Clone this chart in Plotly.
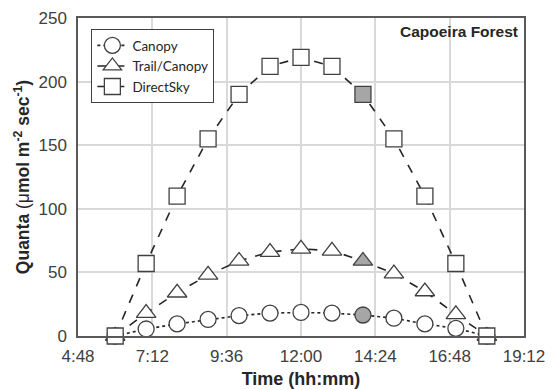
import plotly.graph_objects as go

hours = [6, 7, 8, 9, 10, 11, 12, 13, 14, 15, 16, 17, 18]
canopy = [0, 5.5, 9.5, 13, 16, 18, 18.5, 18, 16.5, 14, 9.5, 6, 0]
trail_canopy = [0, 18, 34, 48, 59, 66, 68.5, 67, 59, 49, 35, 17, 0]
direct_sky = [0, 57, 110, 155, 190, 212, 219, 212, 190, 155, 110, 57, 0]
highlight_hour = 14

tick_vals = [4.8, 7.2, 9.6, 12.0, 14.4, 16.8, 19.2]
tick_text = ["4:48", "7:12", "9:36", "12:00", "14:24", "16:48", "19:12"]
y_ticks = [0, 50, 100, 150, 200, 250]

edge = "#404040"
fills = ["#a6a6a6" if h == highlight_hour else "white" for h in hours]

fig = go.Figure()
series = [
    ("Canopy", canopy, "circle", "dot", 16),
    ("Trail/Canopy", trail_canopy, "triangle-up", "dash", 17),
    ("DirectSky", direct_sky, "square", "dash", 16),
]
for name, vals, sym, dash, size in series:
    fig.add_trace(go.Scatter(
        x=hours, y=vals, name=name, mode="lines+markers",
        line=dict(color="#262626", width=1.6, dash=dash),
        marker=dict(symbol=sym, size=size, color=fills,
                    line=dict(color=edge, width=1.3)),
        cliponaxis=False,
    ))

fig.update_layout(
    width=554, height=390,
    margin=dict(l=78, r=30, t=18, b=54),
    paper_bgcolor="white", plot_bgcolor="white",
    font=dict(family="Liberation Sans, Arial", color="#404040", size=17),
    showlegend=True,
    legend=dict(
        x=0.03, y=0.965, xanchor="left", yanchor="top",
        bgcolor="white", bordercolor="#404040", borderwidth=1,
        font=dict(family="Lato, Open Sans", size=13.5, color="#262626"),
        tracegroupgap=0, itemwidth=30,
    ),
    xaxis=dict(
        range=[4.8, 19.2], tickvals=tick_vals, ticktext=tick_text,
        showgrid=True, gridcolor="#d9d9d9", gridwidth=1.5,
        showline=True, linecolor="#595959", linewidth=1.5, mirror=True,
        ticks="", zeroline=False, ticklabelstandoff=4, automargin=False,
        tickfont=dict(size=17, color="#404040"),
        title=dict(text="<b>Time (hh:mm)</b>", font=dict(size=18, color="#262626"), standoff=7),
    ),
    yaxis=dict(
        range=[0, 250], tickvals=y_ticks,
        showgrid=True, gridcolor="#d9d9d9", gridwidth=1.5,
        showline=True, linecolor="#595959", linewidth=1.5, mirror=True,
        ticks="", zeroline=False, ticklabelstandoff=6, automargin=False,
        tickfont=dict(size=17, color="#404040"),
        title=dict(text="<b>Quanta </b>(μ<b>mol m<sup>-2</sup> sec<sup>-1</sup>)</b>",
                   font=dict(size=17.5, color="#262626"), standoff=4),
    ),
    annotations=[dict(
        x=0.99, y=0.99, xref="paper", yref="paper", xanchor="right", yanchor="top",
        text="<b>Capoeira Forest</b>", showarrow=False,
        font=dict(size=15.5, color="#262626", family="Liberation Sans, Arial"),
    )],
)

fig.write_html("out.html")
